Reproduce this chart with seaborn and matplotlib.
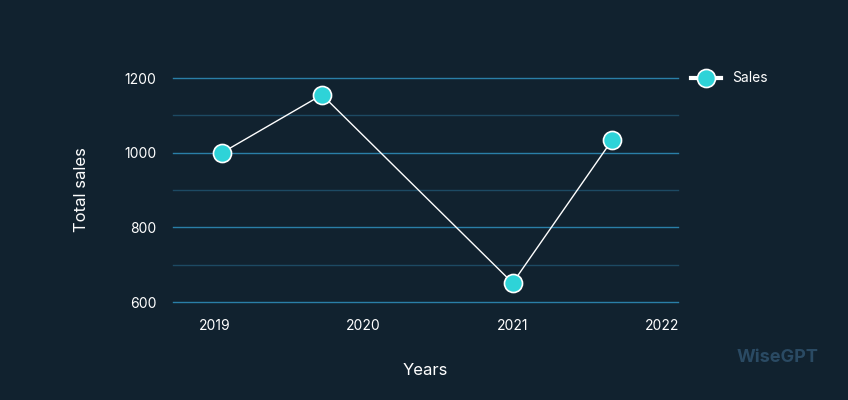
import matplotlib
matplotlib.use("Agg")
import matplotlib.pyplot as plt
import seaborn as sns
import pandas as pd

plt.rcParams["font.family"] = "Inter"

years = [2019.05, 2019.72, 2021.0, 2021.67]
sales = [1000, 1155, 651, 1035]
xticks = [2019, 2020, 2021, 2022]
yticks = [600, 800, 1000, 1200]

bg = "#11222f"
df = pd.DataFrame({"Years": years, "Total sales": sales})
fig = plt.figure(figsize=(8.48, 4.0), dpi=100, facecolor=bg)
ax = fig.add_axes([173/848, 1-302/400, (678-173)/848, (302-78)/400], facecolor=bg)
for v in range(600, 1201, 100):
    ax.axhline(v, color="#2a7fa8" if v % 200 == 0 else "#1d4a63", lw=1, zorder=0, clip_on=False)
sns.lineplot(data=df, x="Years", y="Total sales", ax=ax, color="white", lw=1,
             marker="o", markersize=13, markerfacecolor="#2ed3d8",
             markeredgecolor="white", markeredgewidth=1.2, label="Sales", clip_on=False)
ax.set_xlim(2018.72, 2022.11)
ax.set_ylim(600, 1200)
ax.set_xticks(xticks)
ax.set_xticklabels([str(t) for t in xticks])
ax.set_yticks(yticks)
for s in ax.spines.values():
    s.set_visible(False)
ax.tick_params(length=0, colors="white", labelsize=10, pad=12)
ax.set_xlabel("Years", color="white", fontsize=12, labelpad=22)
ax.set_ylabel("Total sales", color="white", fontsize=12, labelpad=25)
leg = ax.legend(loc="upper left", bbox_to_anchor=(1.0, 1.085), frameon=False,
                labelcolor="white", fontsize=10, handlelength=2.2)
for l in leg.get_lines():
    l.set_linewidth(3)
fig.text(0.965, 0.095, "WiseGPT", color="#2a4a63", fontsize=13, fontweight="bold", ha="right")
fig.savefig("out.png", facecolor=bg)
